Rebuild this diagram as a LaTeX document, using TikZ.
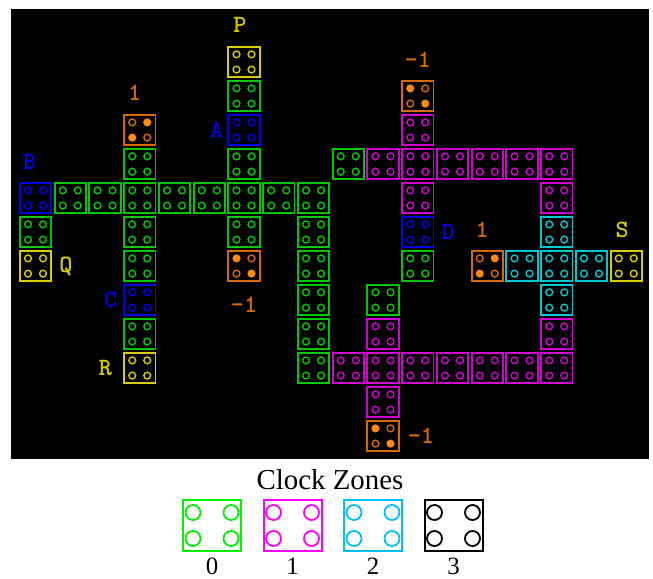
\documentclass[tikz,border=0pt]{standalone}
\usepackage{fontspec}
\setmainfont{Liberation Serif}
\usepackage{tikz}
\usetikzlibrary{positioning,calc}

\definecolor{zgreen}{RGB}{0,200,0}
\definecolor{zmag}{RGB}{210,0,210}
\definecolor{zcyan}{RGB}{0,200,210}
\definecolor{zblue}{RGB}{0,0,235}
\definecolor{zyellow}{RGB}{215,205,0}
\definecolor{zorange}{RGB}{215,105,0}
\definecolor{zorangef}{RGB}{255,140,20}
\definecolor{lgreen}{RGB}{0,240,0}
\definecolor{lmag}{RGB}{255,0,255}
\definecolor{lcyan}{RGB}{0,191,255}

\begin{document}
\begin{tikzpicture}[
  x=1bp, y=-1bp,
  cell/.style={draw=#1, line width=1.8bp, minimum width=31.3bp, minimum height=30.3bp, inner sep=0pt,
    path picture={
      \foreach \sx in {-1,1}
        \foreach \sy in {-1,1}
          \draw[#1, line width=1.4bp] ($(path picture bounding box.center)+(7.5*\sx,7.6*\sy)$) circle (3.4bp);
    }},
  legbox/.style={draw=#1, line width=2bp, minimum width=58bp, minimum height=51bp, inner sep=0pt,
    path picture={
      \foreach \sx in {-1,1}
        \foreach \sy in {-1,1}
          \draw[#1, line width=1.8bp] ($(path picture bounding box.center)+(19*\sx,13*\sy)$) circle (7.5bp);
    }},
  lbl/.style={font=\ttfamily\bfseries\fontsize{25}{28}\selectfont, text=#1, inner sep=0pt},
  lnum/.style={font=\fontsize{25}{28}\selectfont, inner sep=0pt},
]
\useasboundingbox (0,0) rectangle (653,579);
\fill[black] (11,9) rectangle (649,459);

% Clock zone 0
\foreach \c/\r in {6/1, 3/3, 6/3, 9/3, 1/4, 2/4, 3/4, 4/4, 5/4, 6/4, 7/4, 8/4,
                   0/5, 3/5, 6/5, 8/5, 3/6, 8/6, 11/6, 8/7, 10/7, 3/8, 8/8, 8/9}
  \node[cell=zgreen] (c\c-\r) at ({35.5+34.75*\c},{62+34*\r}) {};

% Clock zone 1
\foreach \c/\r in {11/2, 10/3, 11/3, 12/3, 13/3, 14/3, 15/3, 11/4, 15/4, 10/8, 15/8,
                   9/9, 10/9, 11/9, 12/9, 13/9, 14/9, 15/9, 10/10}
  \node[cell=zmag] (c\c-\r) at ({35.5+34.75*\c},{62+34*\r}) {};

% Clock zone 2
\foreach \c/\r in {15/5, 14/6, 15/6, 16/6, 15/7}
  \node[cell=zcyan] (c\c-\r) at ({35.5+34.75*\c},{62+34*\r}) {};

% Inputs and outputs
\foreach \c/\r in {6/2, 0/4, 3/7, 11/5}
  \node[cell=zblue] (c\c-\r) at ({35.5+34.75*\c},{62+34*\r}) {};
\foreach \c/\r in {6/0, 0/6, 3/9, 17/6}
  \node[cell=zyellow] (c\c-\r) at ({35.5+34.75*\c},{62+34*\r}) {};

% Fixed polarization cells
\foreach \c/\r in {3/2, 11/1, 6/6, 13/6, 10/11}
  \node[cell=zorange] (c\c-\r) at ({35.5+34.75*\c},{62+34*\r}) {};
\foreach \cn/\s in {c3-2/1, c13-6/1, c11-1/-1, c6-6/-1, c10-11/-1}
  \fill[zorangef] ($(\cn.center)+(7.5*\s,-7.6)$) circle (3.6bp)
                  ($(\cn.center)+(-7.5*\s,7.6)$) circle (3.6bp);

% Labels
\node[lbl=zyellow, above=13bp of c6-0, xshift=-4bp] (lP) {P};
\node[lbl=zyellow, right=7bp of c0-6] (lQ) {Q};
\node[lbl=zyellow, left=11bp of c3-9] (lR) {R};
\node[lbl=zyellow, above=12bp of c17-6, xshift=-4bp] (lS) {S};
\node[lbl=zblue, left=4bp of c6-2] (lA) {A};
\node[lbl=zblue, above=12bp of c0-4, xshift=-6bp] (lB) {B};
\node[lbl=zblue, left=6bp of c3-7] (lC) {C};
\node[lbl=zblue, right=7bp of c11-5] (lD) {D};
\node[lbl=zorange, above=13bp of c3-2, xshift=-5bp] (f1) {1};
\node[lbl=zorange, above=12bp of c11-1] (f2) {-1};
\node[lbl=zorange, below=15bp of c6-6] (f3) {-1};
\node[lbl=zorange, above=12bp of c13-6, xshift=-5bp] (f4) {1};
\node[lbl=zorange, right=8bp of c10-11] (f5) {-1};

% Legend
\node[font=\fontsize{29}{32}\selectfont, inner sep=0pt] (ttl) at (330,480) {Clock Zones};
\node[legbox=lgreen] (k0) at (212,525.5) {};
\node[legbox=lmag, right=20.5bp of k0] (k1) {};
\node[legbox=lcyan, right=20.5bp of k1] (k2) {};
\node[legbox=black, right=20.5bp of k2] (k3) {};
\node[lnum, below=6bp of k0] (n0) {0};
\node[lnum, below=6bp of k1] (n1) {1};
\node[lnum, below=6bp of k2] (n2) {2};
\node[lnum, below=6bp of k3] (n3) {3};

\end{tikzpicture}
\end{document}
